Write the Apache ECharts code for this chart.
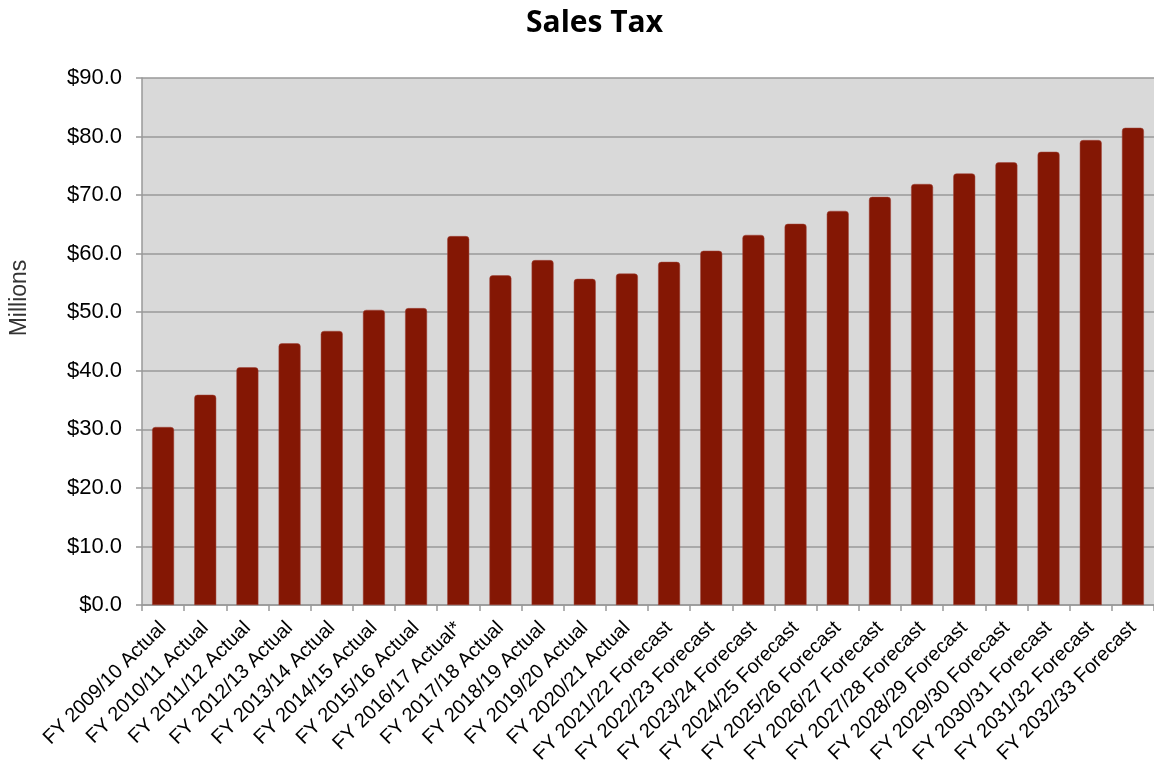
<!DOCTYPE html>
<html>
<head>
<meta charset="utf-8">
<script src="https://cdn.jsdelivr.net/npm/echarts@6/dist/echarts.min.js"></script>
<style>
  html, body { margin: 0; padding: 0; background: #fff; }
  #chart { width: 1154px; height: 763px; }
</style>
</head>
<body>
<div id="chart"></div>
<script>
var categories = [
  "FY 2009/10 Actual", "FY 2010/11 Actual", "FY 2011/12 Actual", "FY 2012/13 Actual",
  "FY 2013/14 Actual", "FY 2014/15 Actual", "FY 2015/16 Actual", "FY 2016/17 Actual*",
  "FY 2017/18 Actual", "FY 2018/19 Actual", "FY 2019/20 Actual", "FY 2020/21 Actual",
  "FY 2021/22 Forecast", "FY 2022/23 Forecast", "FY 2023/24 Forecast", "FY 2024/25 Forecast",
  "FY 2025/26 Forecast", "FY 2026/27 Forecast", "FY 2027/28 Forecast", "FY 2028/29 Forecast",
  "FY 2029/30 Forecast", "FY 2030/31 Forecast", "FY 2031/32 Forecast", "FY 2032/33 Forecast"
];
var salesTax = [
  30.4, 35.9, 40.6, 44.7, 46.8, 50.4, 50.7, 63.0,
  56.3, 58.9, 55.7, 56.6, 58.6, 60.5, 63.2, 65.1,
  67.3, 69.7, 71.9, 73.7, 75.6, 77.4, 79.4, 81.5
];

var chartDom = document.getElementById("chart");
var myChart = echarts.init(chartDom);
var option;

option = {
  animation: false,
  title: {
    text: "Sales Tax",
    left: 521,
    top: 3,
    textStyle: {
      fontFamily: "Open Sans",
      fontWeight: "bold",
      fontSize: 30,
      color: "#000"
    }
  },
  // axis title sits above the plot's middle in the original, so place it by hand
  graphic: [
    {
      type: "text",
      x: 20,
      y: 298,
      rotation: Math.PI / 2,
      style: {
        text: "Millions",
        fontFamily: "Liberation Sans",
        fontSize: 23,
        fill: "#333",
        align: "center",
        verticalAlign: "middle"
      }
    }
  ],
  grid: {
    left: 142,
    right: 0,
    top: 78,
    bottom: 158,
    outerBoundsMode: "none",
    show: true,
    backgroundColor: "#d9d9d9",
    borderWidth: 0
  },
  xAxis: {
    type: "category",
    data: categories,
    axisLine: { lineStyle: { color: "#999", width: 1.5 } },
    axisTick: { show: true, length: 6, lineStyle: { color: "#999", width: 1.5 } },
    axisLabel: {
      interval: 0,
      rotate: 45,
      fontFamily: "Liberation Sans",
      fontSize: 20,
      color: "#000",
      margin: 20
    }
  },
  yAxis: {
    type: "value",
    min: 0,
    max: 90,
    interval: 10,
    axisLine: { show: true, lineStyle: { color: "#999", width: 1.5 } },
    axisTick: { show: true, length: 6, lineStyle: { color: "#999", width: 1.5 } },
    axisLabel: {
      fontFamily: "Liberation Sans",
      fontSize: 22,
      color: "#000",
      margin: 20,
      formatter: function (v) { return "$" + v.toFixed(1); }
    },
    splitLine: { lineStyle: { color: "#999", width: 1.5 } }
  },
  series: [
    {
      name: "Sales Tax",
      type: "bar",
      data: salesTax,
      barWidth: "52%",
      itemStyle: {
        color: "#841704",
        borderColor: "#a0453a",
        borderWidth: 0.5,
        borderRadius: [3, 3, 0, 0]
      }
    }
  ]
};

option && myChart.setOption(option);
</script>
</body>
</html>
